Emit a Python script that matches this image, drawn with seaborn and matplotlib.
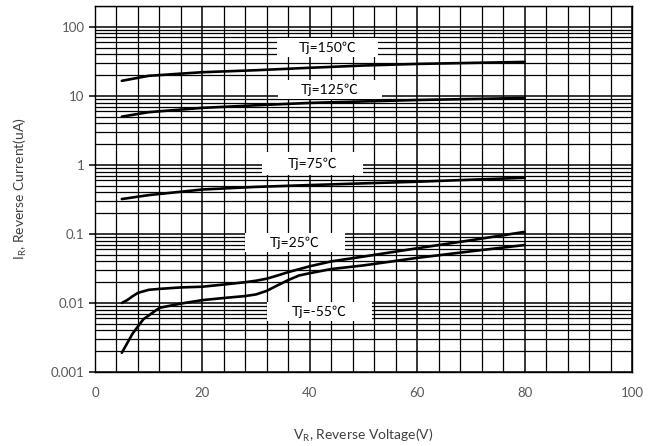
import seaborn as sns
import pandas as pd
import matplotlib.pyplot as plt
import matplotlib.ticker as mtick
from matplotlib.patches import Rectangle

# Data (VR in V, IR in uA)
v_150 = [5, 10, 20, 30, 40, 50, 60, 70, 80]
i_150 = [16.5, 19.5, 22, 23.5, 25.5, 27.5, 29, 30, 31]

v_125 = [5, 10, 20, 30, 40, 50, 60, 70, 80]
i_125 = [5.0, 5.8, 6.7, 7.3, 7.9, 8.3, 8.7, 9.0, 9.3]

v_75 = [5, 10, 20, 30, 40, 50, 60, 70, 80]
i_75 = [0.32, 0.365, 0.44, 0.48, 0.51, 0.54, 0.57, 0.61, 0.65]

v_25 = [5, 6, 7, 8, 10, 12, 16, 20, 24, 28, 30, 32, 34, 36, 40, 44, 50, 60, 70, 80]
i_25 = [0.010, 0.011, 0.0125, 0.014, 0.0155, 0.016, 0.0168, 0.0172, 0.0185,
        0.020, 0.021, 0.0225, 0.025, 0.028, 0.034, 0.040, 0.047, 0.062, 0.081, 0.107]

v_m55 = [5, 7, 9, 12, 16, 20, 24, 28, 30, 32, 34, 36, 38, 40, 44, 50, 60, 70, 80]
i_m55 = [0.0019, 0.0036, 0.0058, 0.0085, 0.0098, 0.0110, 0.0118, 0.0126, 0.0133,
         0.0150, 0.018, 0.0215, 0.025, 0.027, 0.031, 0.035, 0.045, 0.056, 0.069]

curve_names = ["Tj=150℃", "Tj=125℃", "Tj=75℃", "Tj=25℃", "Tj=-55℃"]
y_ticks = [0.001, 0.01, 0.1, 1, 10, 100]
y_tick_labels = ["0.001", "0.01", "0.1", "1", "10", "100"]
x_ticks = [0, 20, 40, 60, 80, 100]

df = pd.concat([
    pd.DataFrame({"VR": v, "IR": i, "curve": name})
    for v, i, name in zip([v_150, v_125, v_75, v_25, v_m55],
                          [i_150, i_125, i_75, i_25, i_m55], curve_names)
])

sns.set_theme(style="ticks")
plt.rcParams["font.family"] = ["Lato", "Noto Sans CJK SC", "DejaVu Sans"]

fig = plt.figure(figsize=(6.56, 4.46), dpi=100)
ax = fig.add_axes([0.1448, 0.1659, 0.8186, 0.8206])

sns.lineplot(data=df, x="VR", y="IR", hue="curve", palette=["black"] * 5,
             linewidth=1.9, legend=False, ax=ax, zorder=3)

ax.set_yscale("log")
ax.set_xlim(0, 100)
ax.set_ylim(0.001, 200)

ax.set_xticks(x_ticks)
ax.xaxis.set_minor_locator(mtick.MultipleLocator(4))
ax.set_yticks(y_ticks)
ax.set_yticklabels(y_tick_labels)
ax.yaxis.set_minor_locator(mtick.LogLocator(base=10, subs=range(2, 10), numticks=20))
ax.yaxis.set_minor_formatter(mtick.NullFormatter())

ax.set_axisbelow(True)
ax.grid(which="major", color="black", linewidth=1.1)
ax.grid(which="minor", color="black", linewidth=0.9)

ax.tick_params(axis="x", which="both", length=0, pad=11, labelsize=9.5, labelcolor="#595959")
ax.tick_params(axis="y", which="major", length=4, width=1.1, color="black",
               labelsize=9.5, labelcolor="#595959")
ax.tick_params(axis="y", which="minor", length=0)

for s in ax.spines.values():
    s.set_color("black")
    s.set_linewidth(1.0)

# white label boxes (axes fraction) covering the grid
boxes = [
    (0.339, 0.861, 0.188, 0.052),
    (0.341, 0.746, 0.193, 0.052),
    (0.311, 0.538, 0.188, 0.063),
    (0.279, 0.328, 0.187, 0.052),
    (0.320, 0.139, 0.196, 0.052),
]
for (bx, by, bw, bh), name in zip(boxes, curve_names):
    ax.add_patch(Rectangle((bx, by), bw, bh, transform=ax.transAxes,
                           facecolor="white", edgecolor="none", zorder=1))
    ax.text(bx + bw / 2, by + bh / 2, name, transform=ax.transAxes,
            ha="center", va="center", fontsize=10, color="black", zorder=4)

ax.set_xlabel(r"V$_\mathregular{R}$, Reverse Voltage(V)", fontsize=10, color="#404040", labelpad=20)
ax.set_ylabel(r"I$_\mathregular{R}$, Reverse Current(uA)", fontsize=10, color="#404040", labelpad=16)

fig.savefig("out.png", dpi=100)
